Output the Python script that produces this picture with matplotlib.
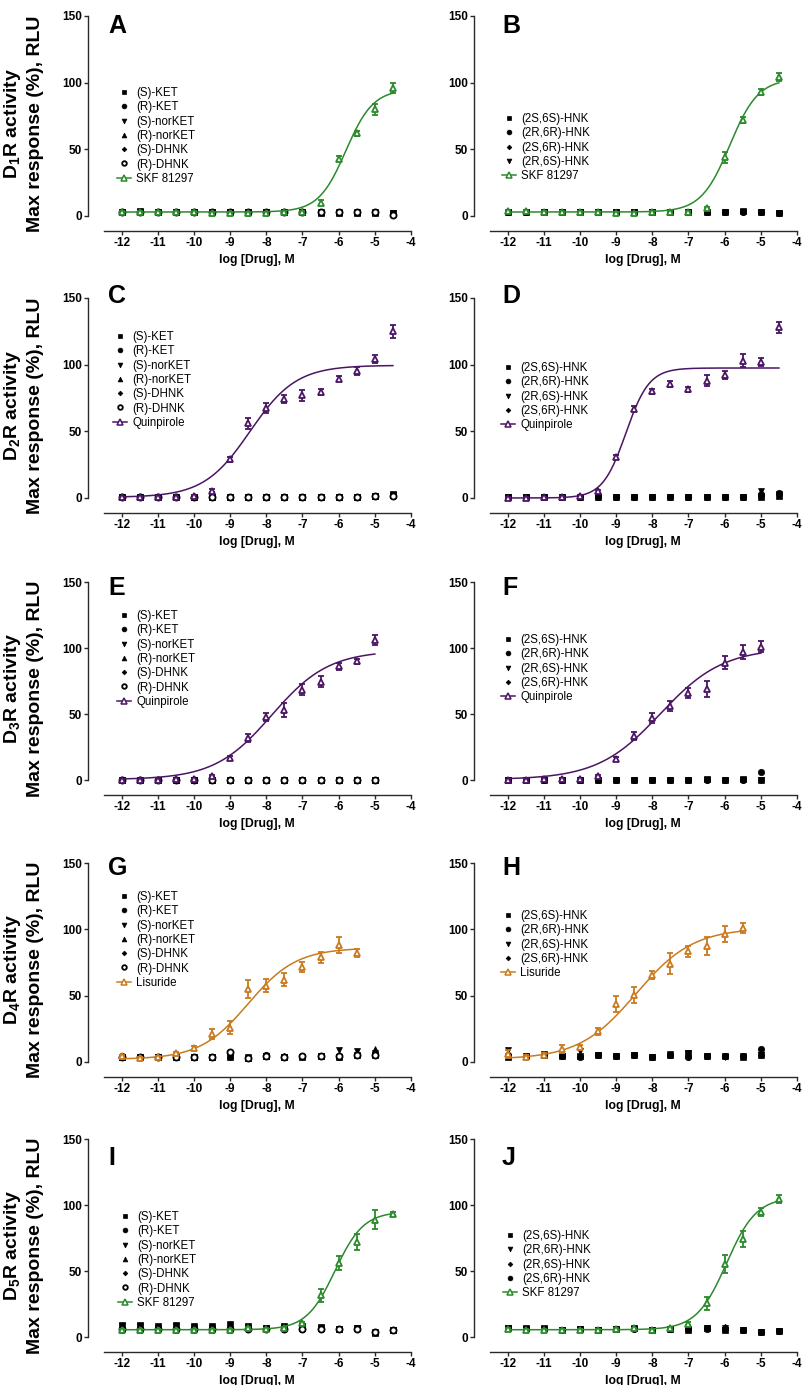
import numpy as np
import matplotlib
matplotlib.use("Agg")
import matplotlib.pyplot as plt
from matplotlib.lines import Line2D

plt.rcParams['font.family'] = ['Liberation Sans', 'DejaVu Sans']
plt.rcParams['mathtext.fontset'] = 'custom'
for k in ['rm', 'it', 'bf', 'sf']:
    plt.rcParams['mathtext.' + k] = 'Liberation Sans:bold'

# ---------------- data ----------------
conc16 = [-12, -11.5, -11, -10.5, -10, -9.5, -9, -8.5, -8, -7.5, -7, -6.5, -6, -5.5, -5, -4.5]
conc15 = conc16[:15]
conc14 = conc16[:14]
x_ticks = [-12, -11, -10, -9, -8, -7, -6, -5, -4]
y_ticks = [0, 50, 100, 150]

left_cmpds = ['(S)-KET', '(R)-KET', '(S)-norKET', '(R)-norKET', '(S)-DHNK', '(R)-DHNK']
left_markers = ['s', 'o', 'v', '^', 'D', 'oo']

# Panel A (D1R) ------------------------------------------------------
a_s_ket = [3, 3.5, 3, 3, 3, 3, 3, 3, 3, 3, 3, 2.5, 2.5, 2.5, 2.5, 2]
a_r_ket = [3, 3, 3, 3, 3, 3, 3, 3, 3, 3, 3, 3, 3, 3, 3, 1.5]
a_s_norket = [3, 3, 3, 3, 3, 3, 3, 3, 3, 3, 3, 3, 3, 3, 3, 2]
a_r_norket = [3, 3, 3, 3, 3, 3, 3, 3, 3, 3, 3, 3, 3, 3, 3, 2]
a_s_dhnk = [3, 3, 3, 3, 3, 3, 3, 3, 3, 3, 3, 3, 3, 3, 3, 2]
a_r_dhnk = [3, 3, 3, 3, 3, 3, 3, 3, 3, 3, 3, 3, 3, 3, 3, 1]
a_skf = [3, 3, 3, 3, 3, 2.5, 2.5, 2.5, 2.5, 3, 3, 10, 43, 62, 80, 96]
a_skf_err = [1, 1, 0.8, 0.8, 0.8, 0.8, 0.8, 0.8, 0.8, 0.8, 0.8, 2, 2, 2, 4, 4]
a_fit = [3, 95, -5.8, 1.15]

# Panel B (D1R, HNK) -------------------------------------------------
b_cmpds = ['(2S,6S)-HNK', '(2R,6R)-HNK', '(2S,6R)-HNK', '(2R,6S)-HNK']
b_markers = ['s', 'o', 'D', 'v']
b_s6s = [3, 3, 3, 3, 3, 3, 3, 3, 3, 3, 3, 3, 3, 3.5, 3, 2]
b_r6r = [3, 3, 3, 3, 3, 3, 3, 3, 3, 3, 3, 3, 3, 3, 3, 2]
b_s6r = [3, 3, 3, 3, 3, 3, 3, 3, 3, 3, 3, 3, 3, 3, 3, 2]
b_r6s = [3, 3, 3, 3, 3, 3, 3, 3, 3, 3, 3, 3, 3, 3, 3, 2]
b_skf = [3.5, 3.5, 3, 3, 3, 3, 2.5, 2.5, 3, 3, 3, 6, 44, 72, 93, 104]
b_skf_err = [0.8] * 11 + [1, 4, 2, 2, 3]
b_fit = [3, 103, -5.86, 1.1]

# Panel C (D2R) ------------------------------------------------------
c_s_ket = [0.5, 0.5, 0.5, 0.5, 0.5, 0.5, 0.5, 0.5, 0.5, 0.5, 1, 0.5, 1, 1, 1.5, 3]
c_r_ket = [0.5, 0.5, 0.5, 0.5, 0.5, 0.5, 0.5, 0.5, 0.5, 0.5, 1, 0.5, 1, 1, 1.5, 1.5]
c_s_norket = [0.5, 0.5, 0.5, 0.5, 0.5, 0.5, 0.5, 0.5, 0.5, 0.5, 1, 0.5, 1, 1, 1.5, 2]
c_r_norket = [0.5, 0.5, 0.5, 0.5, 0.5, 0.5, 0.5, 0.5, 0.5, 0.5, 1, 0.5, 1, 1, 1.5, 2.5]
c_s_dhnk = [0.5, 0.5, 0.5, 0.5, 0.5, 0.5, 0.5, 0.5, 0.5, 0.5, 1, 0.5, 1, 1, 1.5, 1.5]
c_r_dhnk = [0.5, 0.5, 0.5, 0.5, 0.5, 0.5, 0.5, 0.5, 0.5, 0.5, 1, 0.5, 1, 1, 1.5, 1.5]
c_quin = [0.5, 0.5, 0.5, 0.5, 1.5, 5.5, 29, 56, 67.5, 74, 77, 79.5, 89.5, 95, 104, 125]
c_quin_err = [0.5, 0.5, 0.5, 0.5, 0.8, 1, 2, 4, 4, 3, 4, 2, 2, 3, 3, 5]
c_fit = [0.5, 99.5, -8.45, 0.68]

# Panel D (D2R, HNK) -------------------------------------------------
d_cmpds = ['(2S,6S)-HNK', '(2R,6R)-HNK', '(2R,6S)-HNK', '(2S,6R)-HNK']
d_markers = ['s', 'o', 'v', 'D']
d_s6s = [0.5] * 14 + [1, 1.5]
d_r6r = [0.5] * 14 + [2, 3.5]
d_r6s = [0.5] * 14 + [5.5, 3]
d_s6r = [0.5] * 14 + [3.5, 3]
d_quin = [0, 0, 0.5, 0.75, 1.5, 5, 30.5, 67, 80, 85.5, 81.5, 88, 92.5, 103, 102, 128]
d_quin_err = [0.5, 0.5, 0.5, 0.5, 0.8, 1, 1.5, 2, 2, 2, 2, 4, 3, 5, 3, 4]
d_fit = [0, 97.5, -8.73, 1.35]

# Panel E (D3R) ------------------------------------------------------
e_s_ket = [0.3] * 15
e_r_ket = [0.3] * 15
e_s_norket = [0.3] * 15
e_r_norket = [0.3] * 15
e_s_dhnk = [0.3] * 15
e_r_dhnk = [0.3] * 15
e_quin = [0.3, 0.3, 0.3, 0.5, 0.5, 3, 17, 31.5, 47.5, 53, 68.5, 74.5, 86, 90, 106]
e_quin_err = [0.5, 0.5, 0.5, 0.5, 0.5, 1, 1.5, 3, 3, 5, 4, 4, 3, 2, 4]
e_fit = [0.3, 98, -7.85, 0.55]

# Panel F (D3R, HNK) -------------------------------------------------
f_s6s = [0.3] * 11 + [1, 0.3, 0.5, 0.3]
f_r6r = [0.3] * 14 + [6]
f_r6s = [0.3] * 15
f_s6r = [0.3] * 15
f_quin = [0, 0.3, 0.5, 0.5, 0.5, 3, 16, 33, 47, 56, 66, 69, 89, 97, 101]
f_quin_err = [0.3, 0.3, 0.5, 0.5, 0.5, 1, 1.5, 3, 4, 4, 4, 6, 5, 5, 4]
f_fit = [0.3, 100, -7.78, 0.5]

# Panel G (D4R) ------------------------------------------------------
g_s_ket = [4, 4, 3.5, 3.5, 3.5, 4, 4, 3, 4.5, 3.5, 4, 4.5, 3.5, 5, 5]
g_r_ket = [4.5, 3.5, 3.5, 3.5, 3.5, 4, 7, 3, 5, 4, 4.5, 4.5, 4, 5.5, 5]
g_s_norket = [4, 3.5, 3.5, 3.5, 3.5, 4, 4, 3.5, 4.5, 4, 4, 4.5, 9, 8, 7]
g_r_norket = [4, 3.5, 4, 3.5, 3.5, 4, 5, 3, 4.5, 4, 4.5, 4.5, 5, 6, 10]
g_s_dhnk = [4, 3.5, 3.5, 3.5, 3.5, 4, 4, 3, 5, 4.5, 4.5, 4.5, 4, 5, 5]
g_r_dhnk = [4, 3.5, 3.5, 3.5, 3.5, 4, 7.5, 3, 4.5, 4, 4.5, 4.5, 4.5, 5.5, 5]
g_lis = [4.5, 3, 4, 6.5, 10.5, 21, 26, 55, 57.5, 62, 71.5, 79, 88.5, 82]
g_lis_err = [1, 0.8, 0.8, 1, 1.5, 4, 5, 7, 5, 5, 4, 4, 6, 3]
g_fit = [2, 86, -8.5, 0.65]

# Panel H (D4R, HNK) -------------------------------------------------
h_s6s = [4, 4.5, 5, 4.5, 4.5, 5, 4.5, 5, 4, 5.5, 7, 4.5, 4.5, 3.5, 5.5]
h_r6r = [5, 4.5, 5, 4.5, 4, 5, 4.5, 5, 4, 5, 4, 4.5, 4.5, 4.5, 10]
h_r6s = [9, 4, 6, 4.5, 8, 5, 4.5, 5, 4, 6, 6.5, 4.5, 4, 4.5, 5]
h_s6r = [5, 4.5, 5, 4.5, 4.5, 5, 4.5, 5, 4, 5, 4, 4.5, 4.5, 4.5, 5]
h_lis = [6, 4, 5, 9.5, 11, 23, 44, 50.5, 65.5, 74, 83.5, 87.5, 96.5, 101]
h_lis_err = [3, 1, 1.5, 3, 2, 3, 6, 6, 3, 8, 4, 7, 6, 4]
h_fit = [2, 101, -8.45, 0.55]

# Panel I (D5R) ------------------------------------------------------
i_s_ket = [9, 9, 8, 9, 8.5, 8, 9, 8, 7, 8, 8, 7.5, 6, 6.5, 3, 5]
i_r_ket = [5.5, 5.5, 6, 5.5, 5.5, 5.5, 5.5, 6, 6, 6, 6, 6, 6, 6.5, 3.5, 5]
i_s_norket = [8, 8, 7, 8, 7, 7, 10, 7, 6.5, 7, 7, 7, 6, 7, 4, 5.5]
i_r_norket = [7, 7, 7, 7, 7, 7, 7, 7, 6.5, 7, 7, 7, 6, 7, 4, 5.5]
i_s_dhnk = [6] * 14 + [3.5, 5]
i_r_dhnk = [6] * 14 + [3.5, 5]
i_skf = [5.5, 5.5, 5.5, 5.5, 5.5, 5.5, 5.5, 6.5, 6, 6.5, 10.5, 31.5, 56, 72, 89, 93.5]
i_skf_err = [0.5] * 7 + [0.8, 0.5, 0.8, 1, 5, 5, 6, 7, 1]
i_fit = [5.5, 95, -6.1, 1.1]

# Panel J (D5R, HNK) -------------------------------------------------
j_cmpds = ['(2S,6S)-HNK', '(2R,6R)-HNK', '(2R,6S)-HNK', '(2S,6R)-HNK']
j_markers = ['s', 'v', 'D', 'o']
j_s6s = [7, 6.5, 6.5, 5.5, 6, 5.5, 6, 6.5, 5.5, 6, 5.5, 6.5, 5.5, 5, 3.5, 4.5]
j_r6r = [6.5, 6, 6, 5.5, 6, 5.5, 6, 6, 5.5, 6, 6, 6.5, 7, 5.5, 3.5, 4.5]
j_r6s = [6.5, 6, 6, 5.5, 6, 5.5, 6, 6.5, 5.5, 6, 6, 6.5, 7.5, 5.5, 3.5, 4.5]
j_s6r = [6.5, 6, 6, 5.5, 6, 5.5, 6, 6, 5.5, 6, 6, 6, 6, 5, 3.5, 4.5]
j_skf = [6, 5.5, 5.5, 5.5, 5.5, 5.5, 6, 6.5, 5, 6.5, 10, 25.5, 55.5, 74, 95, 104.5]
j_skf_err = [0.5] * 10 + [1, 5, 7, 6, 3, 3]
j_fit = [5.5, 106, -5.95, 1.05]

receptors = ['1', '2', '3', '4', '5']

GREEN = '#2b8a2b'
PURPLE = '#4a1562'
ORANGE = '#c97a1e'

# ---------------- layout (pixels) ----------------
W, H = 810, 1385
fig = plt.figure(figsize=(W / 100, H / 100), dpi=100)
XMIN, XMAX = -12.93, -4.0
col_x = [(88, 411), (474, 797)]
rows = [(16, 216), (298, 498), (582, 780), (863, 1062), (1139, 1337)]
OFFSET = 15  # px between 0 and x axis


def four_pl(x, p):
    b, t, ec, h = p
    return b + (t - b) / (1 + 10 ** ((ec - x) * h))


panels = [
    dict(letter='A', row=0, col=0, black=[a_s_ket, a_r_ket, a_s_norket, a_r_norket, a_s_dhnk, a_r_dhnk],
         names=left_cmpds, marks=left_markers, bx=conc16, ag=a_skf, err=a_skf_err, ax_=conc16,
         fit=a_fit, agname='SKF 81297', color=GREEN, leg=(117, 87), let=(108, 33)),
    dict(letter='B', row=0, col=1, black=[b_s6s, b_r6r, b_s6r, b_r6s], names=b_cmpds, marks=b_markers,
         bx=conc16, ag=b_skf, err=b_skf_err, ax_=conc16, fit=b_fit, agname='SKF 81297', color=GREEN,
         leg=(502, 113), let=(502, 33)),
    dict(letter='C', row=1, col=0, black=[c_s_ket, c_r_ket, c_s_norket, c_r_norket, c_s_dhnk, c_r_dhnk],
         names=left_cmpds, marks=left_markers, bx=conc16, ag=c_quin, err=c_quin_err, ax_=conc16,
         fit=c_fit, agname='Quinpirole', color=PURPLE, leg=(113, 331), let=(108, 303)),
    dict(letter='D', row=1, col=1, black=[d_s6s, d_r6r, d_r6s, d_s6r], names=d_cmpds, marks=d_markers,
         bx=conc16, ag=d_quin, err=d_quin_err, ax_=conc16, fit=d_fit, agname='Quinpirole', color=PURPLE,
         leg=(501, 362), let=(502, 303)),
    dict(letter='E', row=2, col=0, black=[e_s_ket, e_r_ket, e_s_norket, e_r_norket, e_s_dhnk, e_r_dhnk],
         names=left_cmpds, marks=left_markers, bx=conc15, ag=e_quin, err=e_quin_err, ax_=conc15,
         fit=e_fit, agname='Quinpirole', color=PURPLE, leg=(117, 610), let=(108, 595)),
    dict(letter='F', row=2, col=1, black=[f_s6s, f_r6r, f_r6s, f_s6r], names=d_cmpds, marks=d_markers,
         bx=conc15, ag=f_quin, err=f_quin_err, ax_=conc15, fit=f_fit, agname='Quinpirole', color=PURPLE,
         leg=(501, 634), let=(502, 595)),
    dict(letter='G', row=3, col=0, black=[g_s_ket, g_r_ket, g_s_norket, g_r_norket, g_s_dhnk, g_r_dhnk],
         names=left_cmpds, marks=left_markers, bx=conc15, ag=g_lis, err=g_lis_err, ax_=conc14,
         fit=g_fit, agname='Lisuride', color=ORANGE, leg=(117, 891), let=(108, 875)),
    dict(letter='H', row=3, col=1, black=[h_s6s, h_r6r, h_r6s, h_s6r], names=d_cmpds, marks=d_markers,
         bx=conc15, ag=h_lis, err=h_lis_err, ax_=conc14, fit=h_fit, agname='Lisuride', color=ORANGE,
         leg=(501, 910), let=(502, 875)),
    dict(letter='I', row=4, col=0, black=[i_s_ket, i_r_ket, i_s_norket, i_r_norket, i_s_dhnk, i_r_dhnk],
         names=left_cmpds, marks=left_markers, bx=conc16, ag=i_skf, err=i_skf_err, ax_=conc16,
         fit=i_fit, agname='SKF 81297', color=GREEN, leg=(118, 1211), let=(108, 1165)),
    dict(letter='J', row=4, col=1, black=[j_s6s, j_r6r, j_r6s, j_s6r], names=j_cmpds, marks=j_markers,
         bx=conc16, ag=j_skf, err=j_skf_err, ax_=conc16, fit=j_fit, agname='SKF 81297', color=GREEN,
         leg=(503, 1230), let=(502, 1165)),
]

TICK_FS = 8.5
for p in panels:
    x0, x1 = col_x[p['col']]
    T, Z = rows[p['row']]
    B = Z + OFFSET
    ax = fig.add_axes([x0 / W, 1 - B / H, (x1 - x0) / W, (B - T) / H])
    ymin = -OFFSET * 150.0 / (Z - T)
    ax.set_xlim(XMIN, XMAX)
    ax.set_ylim(ymin, 150)

    handles = []
    for vals, name, m in zip(p['black'], p['names'], p['marks']):
        if m == 'oo':
            kw = dict(marker='o', ms=4.4, mfc='white', mec='black', mew=1.3)
        elif m == 'D':
            kw = dict(marker='D', ms=3.2, mfc='black', mec='black', mew=0.5)
        else:
            kw = dict(marker=m, ms=4.6, mfc='black', mec='black', mew=0.5)
        ax.plot(p['bx'], vals, ls='none', color='black', clip_on=False, zorder=3, **kw)
        hl = Line2D([], [], ls='none', color='black', **dict(kw, ms=kw['ms'] * 0.75))
        handles.append((hl, name))

    xs = np.linspace(p['ax_'][0], p['ax_'][-1], 300)
    ax.plot(xs, four_pl(xs, p['fit']), color=p['color'], lw=1.1, zorder=4)
    ax.errorbar(p['ax_'], p['ag'], yerr=p['err'], fmt='none', ecolor=p['color'], elinewidth=1.3,
                capsize=2.0, capthick=1.3, zorder=5, clip_on=False)
    ax.plot(p['ax_'], p['ag'], ls='none', marker='^', ms=5.0, mfc='white', mec=p['color'], mew=1.3,
            zorder=6, clip_on=False)
    agh = Line2D([], [], color=p['color'], lw=1.1, marker='^', ms=4.0, mfc='white', mec=p['color'], mew=1.1)
    handles.append((agh, p['agname']))

    # spines / ticks
    for s in ['top', 'right']:
        ax.spines[s].set_visible(False)
    ax.spines['left'].set_bounds(0, 150)
    ax.spines['bottom'].set_bounds(-12.5, -4)
    for s in ['left', 'bottom']:
        ax.spines[s].set_linewidth(1.0)
        ax.spines[s].set_color('#2a2a2a')
    ax.set_xticks(x_ticks)
    ax.set_yticks(y_ticks)
    ax.set_xticklabels([str(v) for v in x_ticks], fontweight='bold', fontsize=TICK_FS)
    ax.set_yticklabels([str(v) for v in y_ticks], fontweight='bold', fontsize=TICK_FS)
    ax.tick_params(axis='both', direction='out', length=3, width=1.0, color='#2a2a2a', pad=1.5)

    ax.set_xlabel('log [Drug], M', fontweight='bold', fontsize=8.8)
    xl_center = ((-12.5 + -4) / 2 - XMIN) / (XMAX - XMIN)
    ax.xaxis.set_label_coords(xl_center, -(260 - 231) / 215.0)
    ax.xaxis.label.set_va('center')

    if p['col'] == 0:
        ax.set_ylabel('D$_{%s}$R activity\nMax response (%%), RLU' % receptors[p['row']],
                      fontweight='bold', fontsize=14, linespacing=1.35)
        ax.yaxis.set_label_coords((23 - x0) / (x1 - x0), 0.5)
        ax.yaxis.label.set_va('center')

    lx, ly = p['leg']
    ax.legend([h for h, _ in handles], [n for _, n in handles], loc='upper left',
              bbox_to_anchor=((lx - x0) / (x1 - x0), (B - ly) / (B - T)), frameon=False,
              fontsize=8.3, handlelength=1.25, handletextpad=0.4, labelspacing=0.2,
              borderpad=0, borderaxespad=0, numpoints=1)

    tx, ty = p['let']
    fig.text(tx / W, 1 - ty / H, p['letter'], fontsize=18, fontweight='bold', ha='left', va='baseline')

fig.savefig('out.png', dpi=100)
